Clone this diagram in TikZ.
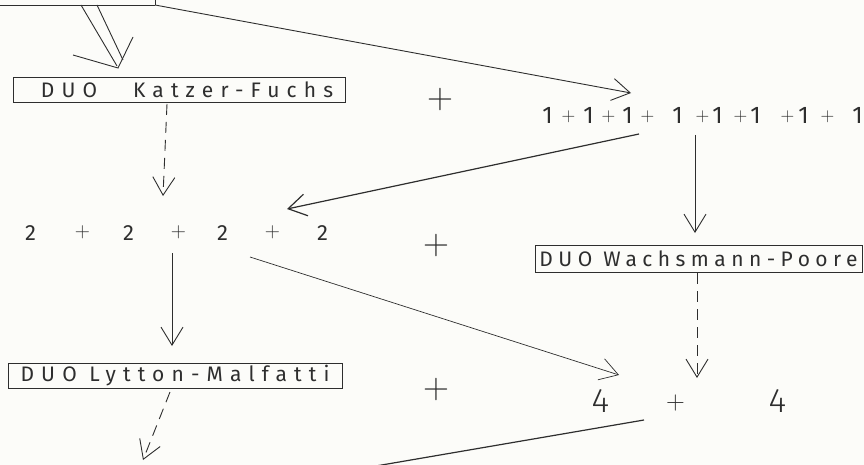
\documentclass[tikz,border=0pt]{standalone}
\usepackage{fontspec}
\newfontfamily\hand{Fira Sans}
\newfontfamily\handlight{Fira Sans Light}
\usetikzlibrary{arrows.meta}
\definecolor{ink}{HTML}{2E2E2E}
\definecolor{paper}{HTML}{FCFCF9}
\newcommand\pl[2]{\rlap{\hspace*{#1pt}\makebox[0pt]{#2}}}
\newcommand\pp[2]{\raisebox{#2pt}{\rmfamily\fontsize{#1}{#1}\selectfont +}}
\begin{document}
\begin{tikzpicture}[x=1pt,y=-1pt, color=ink, line width=0.9pt,
  >={Straight Barb[length=18pt,width=22pt]},
  duobox/.style={draw, rectangle, inner sep=0pt, font=\hand\fontsize{21}{21}\selectfont},
  dashline/.style={dash pattern=on 11pt off 7pt},
  bigplus/.style={font=\rmfamily\fontsize{36}{36}\selectfont, inner sep=0pt},
  sumrow/.style={anchor=base west, inner sep=0pt},
 ]
\fill[paper] (0,0) rectangle (864,465);
\useasboundingbox (0,0) rectangle (864,465);

% boxes
\node[duobox, minimum width=332pt, minimum height=25pt] (kf) at (179,89.5)
 {\addfontfeatures{LetterSpace=34}\hspace*{16pt}DUO\hspace{36pt}Katzer-Fuchs};
\node[duobox, minimum width=327pt, minimum height=27pt] (wp) at (698.5,258.5)
 {\addfontfeatures{LetterSpace=26}DUO Wachsmann-Poore};
\node[duobox, minimum width=334pt, minimum height=25pt] (lm) at (175,375.5)
 {\addfontfeatures{LetterSpace=34}DUO Lytton-Malfatti};

% sums
\node[sumrow, font=\hand\fontsize{24}{24}\selectfont] (ones) at (547,124)
 {\pl{0}{1}\pl{21}{\pp{19}{2}}\pl{41}{1}\pl{61}{\pp{19}{2}}\pl{80}{1}\pl{100}{\pp{19}{2}}\pl{130}{1}\pl{155}{\pp{19}{2}}\pl{170}{1}\pl{193}{\pp{19}{2}}\pl{208}{1}\pl{240}{\pp{19}{2}}\pl{256}{1}\pl{280}{\pp{19}{2}}\pl{310}{1}\hspace*{310pt}};
\node[sumrow, font=\hand\fontsize{22}{22}\selectfont] (twos) at (30,240)
 {\pl{0}{2}\pl{52}{\pp{21}{2}}\pl{98}{2}\pl{148}{\pp{21}{2}}\pl{192}{2}\pl{242}{\pp{21}{2}}\pl{292}{2}\hspace*{292pt}};
\node[sumrow, font=\handlight\fontsize{34}{34}\selectfont] (fours) at (600,412)
 {\pl{0}{4}\pl{75}{\pp{26}{3}}\pl{177}{4}\hspace*{177pt}};

% plus signs
\node[bigplus] (p1) at (440,100) {+};
\node[bigplus] (p2) at (436,246) {+};
\node[bigplus] (p3) at (436,390) {+};

% coordinates
\coordinate (tl) at (0,5);
\coordinate (tk) at (155,5);
\coordinate (tkt) at (155,0);
\coordinate (a1e) at (631,93);
\coordinate (d1a) at (81,5);  \coordinate (d1b) at (117,66);
\coordinate (d2a) at (97,5);  \coordinate (d2b) at (123,60);
\coordinate (h1) at (73,55); \coordinate (h2) at (118,68); \coordinate (h3) at (133,37);
\coordinate (kfo) at (167,104); \coordinate (twi) at (163,196);
\coordinate (ono) at (639,134); \coordinate (twr) at (287,209);
\coordinate (onb) at (695,135); \coordinate (wpi) at (695,233);
\coordinate (two) at (172,253); \coordinate (lmi) at (172,346);
\coordinate (twx) at (250,257); \coordinate (foi) at (619,375);
\coordinate (wpo) at (697,273); \coordinate (foj) at (697,378);
\coordinate (lmo) at (170,392); \coordinate (lmd) at (143,460);
\coordinate (foo) at (644,420); \coordinate (bot) at (370,467);

% connectors
\draw (tl) -- (tk);
\draw (tkt) -- (tk);
\draw[->] (tk) -- (a1e);
\draw (d1a) -- (d1b);
\draw (d2a) -- (d2b);
\draw (h1) -- (h2) -- (h3);
\draw[->, dashline] (kfo) -- (twi);
\draw[->, line width=1.2pt] (ono) -- (twr);
\draw[->] (onb) -- (wpi);
\draw[->] (two) -- (lmi);
\draw[->, line width=0.7pt] (twx) -- (foi);
\draw[->, dashline] (wpo) -- (foj);
\draw[->, dashline] (lmo) -- (lmd);
\draw[line width=1.2pt] (foo) -- (bot);
\end{tikzpicture}
\end{document}
